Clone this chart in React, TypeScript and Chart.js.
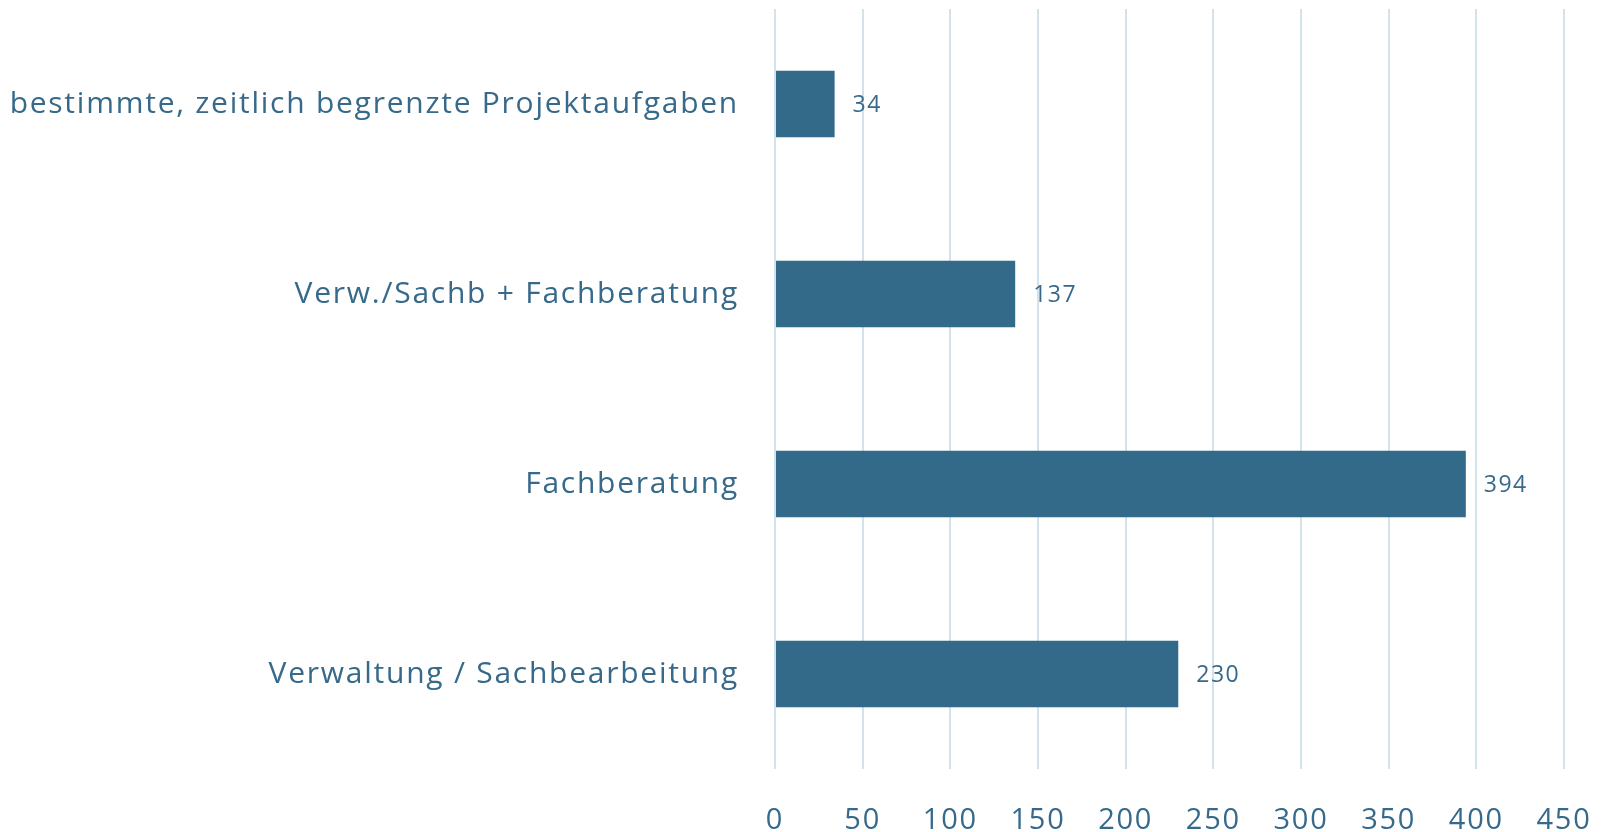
import React, { useEffect, useRef } from "react";
import { Chart, registerables } from "chart.js";

Chart.register(...registerables);

const categories = [
  "bestimmte, zeitlich begrenzte Projektaufgaben",
  "Verw./Sachb + Fachberatung",
  "Fachberatung",
  "Verwaltung / Sachbearbeitung",
];
const values = [34, 137, 394, 230];
const xTicks = [0, 50, 100, 150, 200, 250, 300, 350, 400, 450];

const BAR = "#336a89";
const TEXT = "#36698a";
const GRID = "#d3e3ee";
const FONT = "'Open Sans', Lato, sans-serif";
const SPACING = "1.75px";

const spacingPlugin = {
  id: "spacing",
  beforeUpdate(chart: any) {
    chart.ctx.letterSpacing = SPACING;
  },
  beforeLayout(chart: any) {
    chart.ctx.letterSpacing = SPACING;
  },
  beforeDraw(chart: any) {
    chart.ctx.letterSpacing = SPACING;
  },
};

const valueLabels = {
  id: "valueLabels",
  afterDatasetsDraw(chart: any) {
    const ctx = chart.ctx;
    const meta = chart.getDatasetMeta(0);
    ctx.save();
    ctx.letterSpacing = "1.5px";
    ctx.font = `23px ${FONT}`;
    ctx.fillStyle = TEXT;
    ctx.textAlign = "left";
    ctx.textBaseline = "middle";
    meta.data.forEach((el: any, i: number) => {
      ctx.fillText(String(values[i]), el.x + 18, el.y + 1);
    });
    ctx.restore();
  },
};

export default function App() {
  const ref = useRef<HTMLCanvasElement>(null);
  useEffect(() => {
    document.body.style.margin = "0";
    const chart = new Chart(ref.current!, {
      type: "bar",
      data: {
        labels: categories,
        datasets: [
          {
            data: values,
            backgroundColor: BAR,
            barPercentage: 0.35,
            categoryPercentage: 1,
          },
        ],
      },
      options: {
        indexAxis: "y",
        animation: false,
        responsive: false,
        layout: { padding: { top: 9, right: 43, left: 0, bottom: 0 } },
        plugins: { legend: { display: false }, tooltip: { enabled: false } },
        scales: {
          x: {
            min: 0,
            max: 450,
            afterBuildTicks: (s: any) => {
              s.ticks = xTicks.map((v) => ({ value: v }));
            },
            afterFit: (s: any) => {
              s.height = 63;
              s.paddingLeft = 0;
              s.paddingRight = 0;
              s.paddingTop = 0;
              s.paddingBottom = 0;
            },
            grid: { color: GRID, lineWidth: 2, drawTicks: false },
            border: { display: false },
            ticks: {
              padding: 34,
              color: TEXT,
              font: { family: FONT, size: 29 },
              maxRotation: 0,
            },
          },
          y: {
            afterFit: (s: any) => {
              s.width = 775;
              s.paddingLeft = 0;
              s.paddingRight = 0;
              s.paddingTop = 0;
              s.paddingBottom = 0;
            },
            grid: { display: false },
            border: { display: false },
            ticks: {
              padding: 28,
              color: TEXT,
              font: { family: FONT, size: 30 },
            },
          },
        },
      },
      plugins: [spacingPlugin, valueLabels],
    });
    return () => chart.destroy();
  }, []);
  return (
    <div style={{ width: 1607, height: 832 }}>
      <canvas ref={ref} width={1607} height={832} />
    </div>
  );
}
